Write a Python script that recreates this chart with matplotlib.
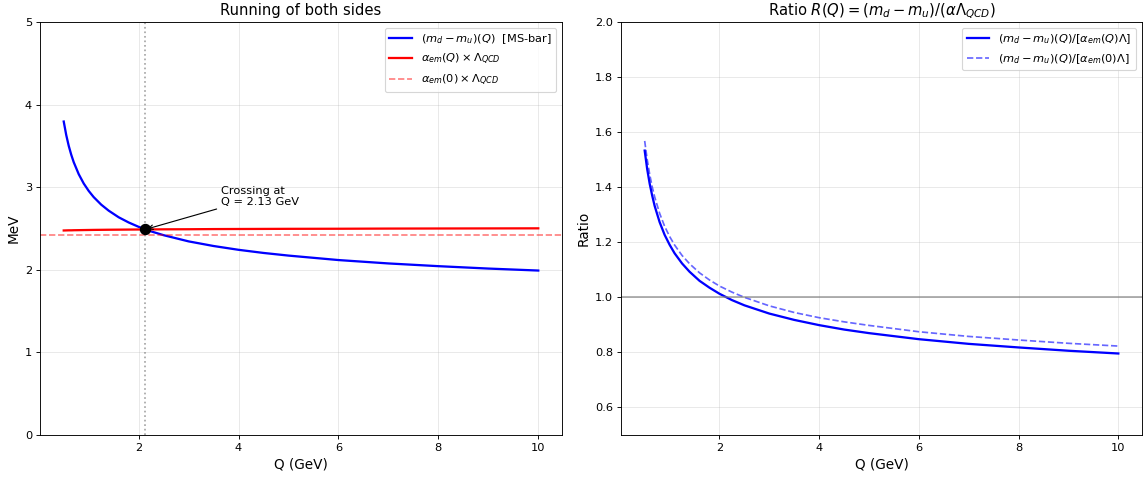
import numpy as np
import matplotlib
matplotlib.use('Agg')
import matplotlib.pyplot as plt

# values
Q = [0.5, 0.55, 0.6, 0.65, 0.7, 0.8, 0.9, 1.0, 1.1, 1.25, 1.4, 1.6, 1.8,
     2.0, 2.25, 2.5, 3.0, 3.5, 4.0, 4.5, 5.0, 6.0, 7.0, 8.0, 9.0, 10.0]
md_mu = [3.795, 3.632, 3.501, 3.394, 3.303, 3.158, 3.045, 2.955, 2.880, 2.789,
         2.716, 2.636, 2.573, 2.520, 2.465, 2.419, 2.344, 2.288, 2.242, 2.204,
         2.172, 2.118, 2.077, 2.044, 2.015, 1.991]
alpha_lam = [2.476, 2.477, 2.478, 2.478, 2.479, 2.480, 2.481, 2.482, 2.483, 2.484,
             2.485, 2.486, 2.487, 2.488, 2.489, 2.490, 2.491, 2.493, 2.494, 2.495,
             2.496, 2.497, 2.499, 2.500, 2.501, 2.502]
alpha0_lam = 2.42
ratio_run = [1.533, 1.466, 1.413, 1.370, 1.332, 1.273, 1.227, 1.191, 1.160, 1.123,
             1.093, 1.060, 1.035, 1.013, 0.990, 0.971, 0.941, 0.918, 0.899, 0.883,
             0.870, 0.848, 0.831, 0.818, 0.806, 0.796]
ratio_fix = [1.568, 1.501, 1.447, 1.402, 1.365, 1.305, 1.258, 1.221, 1.190, 1.152,
             1.122, 1.089, 1.063, 1.041, 1.019, 1.000, 0.969, 0.945, 0.926, 0.911,
             0.898, 0.875, 0.858, 0.845, 0.833, 0.823]
Q_cross = 2.13
val_cross = 2.488

dpi = 1145 / 14
fig = plt.figure(figsize=(14, 477 / dpi), dpi=dpi)
ax1 = fig.add_axes([40/1145, 42/477, 522/1145, 413/477])
ax2 = fig.add_axes([621/1145, 42/477, 521/1145, 413/477])

# left panel
ax1.plot(Q, md_mu, 'b-', lw=2, label=r'$(m_d - m_u)(Q)$  [MS-bar]')
ax1.plot(Q, alpha_lam, 'r-', lw=2, label=r'$\alpha_{em}(Q) \times \Lambda_{QCD}$')
ax1.axhline(alpha0_lam, color='r', ls='--', alpha=0.5, label=r'$\alpha_{em}(0) \times \Lambda_{QCD}$')
ax1.axvline(Q_cross, color='gray', ls=':', alpha=0.7)
ax1.plot([Q_cross], [val_cross], 'ko', ms=9)
ax1.annotate('Crossing at\nQ = %.2f GeV' % Q_cross, xy=(Q_cross, val_cross),
             xytext=(3.65, 2.78), fontsize=10,
             arrowprops=dict(arrowstyle='->', color='black'))
ax1.set_ylim(0, 5)
ax1.set_xlabel('Q (GeV)', fontsize=12)
ax1.set_ylabel('MeV', fontsize=12)
ax1.set_title('Running of both sides', fontsize=13)
ax1.legend(loc='upper right')
ax1.grid(alpha=0.3)

# right panel
ax2.plot(Q, ratio_run, 'b-', lw=2, label=r'$(m_d - m_u)(Q) / [\alpha_{em}(Q) \Lambda]$')
ax2.plot(Q, ratio_fix, 'b--', lw=1.5, alpha=0.6, label=r'$(m_d - m_u)(Q) / [\alpha_{em}(0) \Lambda]$')
ax2.axhline(1.0, color='gray', ls='-', alpha=0.7)
ax2.set_ylim(0.5, 2.0)
ax2.set_xlabel('Q (GeV)', fontsize=12)
ax2.set_ylabel('Ratio', fontsize=12)
ax2.set_title(r'Ratio $R(Q) = (m_d - m_u)/(\alpha \Lambda_{QCD})$', fontsize=13)
ax2.legend(loc='upper right')
ax2.grid(alpha=0.3)

plt.savefig('out.png', dpi=dpi)
